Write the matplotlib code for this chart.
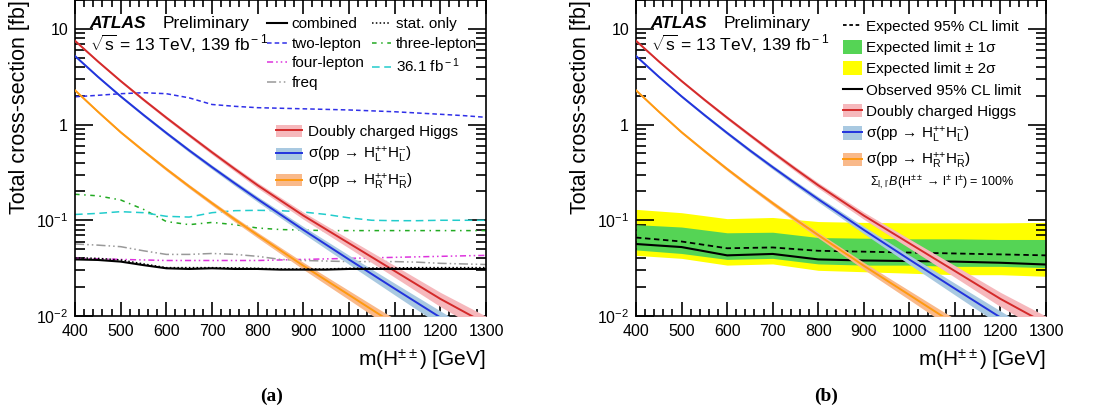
import matplotlib
matplotlib.use("Agg")
import matplotlib.pyplot as plt
from matplotlib.lines import Line2D
from matplotlib.patches import Patch
from matplotlib.ticker import MultipleLocator, LogLocator, FixedLocator, FixedFormatter, NullFormatter
import numpy as np

plt.rcParams['font.family'] = ['Liberation Sans', 'DejaVu Sans']
plt.rcParams['mathtext.fontset'] = 'custom'
plt.rcParams['mathtext.rm'] = 'Liberation Sans'
plt.rcParams['mathtext.it'] = 'Liberation Sans:italic'
plt.rcParams['mathtext.bf'] = 'Liberation Sans:bold'

# signal cross-sections [fb]
sig_mass = [400, 450, 500, 550, 600, 650, 700, 750, 800, 900, 1000, 1100, 1200, 1300]
xs_total = [7.5, 4.57, 2.85, 1.82, 1.18, 0.776, 0.513, 0.343, 0.232, 0.112, 0.0575, 0.0295, 0.0151, 0.0083]
xs_left = [5.2, 3.16, 1.97, 1.26, 0.817, 0.537, 0.359, 0.243, 0.166, 0.0794, 0.0389, 0.0193, 0.00966, 0.00484]
xs_right = [2.28, 1.365, 0.832, 0.531, 0.343, 0.226, 0.151, 0.102, 0.070, 0.0335, 0.0166, 0.0082, 0.0041, 0.00207]
xs_unc = [0.025, 0.027, 0.03, 0.035, 0.04, 0.045, 0.05, 0.057, 0.065, 0.085, 0.11, 0.14, 0.17, 0.20]

# (a) limits per channel [fb]
lim_mass = [400, 450, 500, 550, 600, 650, 700, 750, 800, 850, 900, 950, 1000, 1050, 1100, 1150, 1200, 1250, 1300]
combined = [0.039, 0.0385, 0.037, 0.034, 0.0315, 0.031, 0.0315, 0.031, 0.031, 0.0305, 0.0305, 0.0305,
            0.031, 0.031, 0.031, 0.031, 0.031, 0.031, 0.031]
stat_only = [0.0405, 0.040, 0.0385, 0.035, 0.032, 0.032, 0.032, 0.0318, 0.0315, 0.031, 0.031, 0.031,
             0.0315, 0.0317, 0.0318, 0.032, 0.032, 0.032, 0.032]
two_lep = [1.95, 2.02, 2.1, 2.15, 2.1, 1.9, 1.62, 1.55, 1.5, 1.48, 1.46, 1.44, 1.42, 1.39, 1.36, 1.32,
           1.28, 1.24, 1.19]
three_lep = [0.187, 0.18, 0.163, 0.13, 0.097, 0.09, 0.095, 0.09, 0.083, 0.08, 0.079, 0.078, 0.078,
             0.078, 0.078, 0.078, 0.078, 0.078, 0.078]
four_lep = [0.040, 0.0395, 0.039, 0.0385, 0.038, 0.038, 0.038, 0.038, 0.038, 0.0385, 0.039, 0.0395,
            0.040, 0.0405, 0.041, 0.0415, 0.042, 0.0425, 0.043]
lim_36fb = [0.115, 0.118, 0.123, 0.12, 0.11, 0.108, 0.12, 0.126, 0.127, 0.126, 0.122, 0.115, 0.106,
            0.100, 0.099, 0.099, 0.100, 0.100, 0.100]
freq = [0.0565, 0.055, 0.053, 0.048, 0.044, 0.044, 0.045, 0.044, 0.042, 0.039, 0.038, 0.0375, 0.037,
        0.037, 0.037, 0.0365, 0.0355, 0.035, 0.0345]

# (b) combined limit with bands [fb]
band_mass = [400, 500, 600, 700, 800, 900, 1000, 1100, 1200, 1300]
exp_lim = [0.066, 0.060, 0.051, 0.052, 0.048, 0.047, 0.046, 0.045, 0.044, 0.043]
obs_lim = [0.0565, 0.0525, 0.043, 0.0445, 0.039, 0.038, 0.0375, 0.037, 0.036, 0.0345]
exp_1up = [0.090, 0.085, 0.074, 0.075, 0.066, 0.065, 0.064, 0.064, 0.063, 0.063]
exp_1dn = [0.049, 0.045, 0.039, 0.040, 0.035, 0.034, 0.034, 0.033, 0.033, 0.032]
exp_2up = [0.130, 0.120, 0.104, 0.107, 0.097, 0.095, 0.094, 0.094, 0.094, 0.095]
exp_2dn = [0.043, 0.040, 0.034, 0.035, 0.030, 0.029, 0.028, 0.027, 0.027, 0.026]

c_red, c_red_band = '#d42a2a', '#f6b8bc'
c_blue, c_blue_band = '#2233dd', '#a9c9e1'
c_orng, c_orng_band = '#ff9a10', '#f9b98a'
c_green, c_yellow = '#55d455', '#ffff00'

fig = plt.figure(figsize=(11.02, 4.17), dpi=100)
ax1 = fig.add_axes([75/1102, 1-316/417, 411/1102, 316/417])
ax2 = fig.add_axes([636/1102, 1-316/417, 410/1102, 316/417])

m = np.array(sig_mass)
unc = np.array(xs_unc)


def draw_signal(ax):
    out = []
    for xs, col, bcol in [(xs_total, c_red, c_red_band), (xs_left, c_blue, c_blue_band),
                          (xs_right, c_orng, c_orng_band)]:
        xs = np.array(xs)
        ax.fill_between(m, xs*(1-unc), xs*(1+unc), color=bcol, lw=0, zorder=3)
        ax.plot(m, xs, color=col, lw=1.4, zorder=4)
        out.append((Patch(facecolor=bcol, edgecolor='none'), Line2D([], [], color=col, lw=1.4)))
    return out


def style_axis(ax):
    ax.set_yscale('log')
    ax.set_xlim(400, 1300)
    ax.set_ylim(0.01, 20)
    ax.xaxis.set_major_locator(MultipleLocator(100))
    ax.xaxis.set_minor_locator(MultipleLocator(20))
    ax.yaxis.set_major_locator(FixedLocator([0.01, 0.1, 1, 10]))
    ax.yaxis.set_major_formatter(FixedFormatter([r'$10^{-2}$', r'$10^{-1}$', '1', '10']))
    ax.yaxis.set_minor_locator(LogLocator(base=10, subs=np.arange(2, 10)))
    ax.yaxis.set_minor_formatter(NullFormatter())
    ax.tick_params(which='both', direction='in', top=True, right=True, labelsize=11.5, width=1.2)
    ax.tick_params(axis='y', which='major', length=13, pad=5)
    ax.tick_params(axis='y', which='minor', length=7)
    ax.tick_params(axis='x', which='major', length=10, pad=6)
    ax.tick_params(axis='x', which='minor', length=5)
    for s in ax.spines.values():
        s.set_linewidth(1.2)
    ax.set_xlabel(r'm(H$^{\pm\pm}$) [GeV]', fontsize=15, loc='right', labelpad=6)
    ax.set_ylabel('Total cross-section [fb]', fontsize=15.5, loc='top', labelpad=4)
    ax.text(0.036, 0.925, 'ATLAS', transform=ax.transAxes, fontsize=12.5, fontweight='bold',
            style='italic', va='center')
    ax.text(0.214, 0.925, 'Preliminary', transform=ax.transAxes, fontsize=12.5, va='center')
    ax.text(0.036, 0.862, r'$\sqrt{\rm s}$ = 13 TeV, 139 fb$^{\rm -1}$', transform=ax.transAxes,
            fontsize=12.5, va='center')


# panel (a): limits per channel
ax1.plot(lim_mass, combined, color='black', lw=1.5, zorder=5)
ax1.plot(lim_mass, stat_only, color='black', lw=1.1, ls=(0, (1, 1.5)), zorder=5)
ax1.plot(lim_mass, two_lep, color='#3030e8', lw=1.1, ls=(0, (3, 2)))
ax1.plot(lim_mass, three_lep, color='#22aa22', lw=1.1, ls=(0, (3, 3, 1, 3)))
ax1.plot(lim_mass, four_lep, color='#dd33dd', lw=1.1, ls=(0, (4, 2, 1, 2, 1, 2)))
ax1.plot(lim_mass, lim_36fb, color='#22cccc', lw=1.1, ls=(0, (5, 3)))
ax1.plot(lim_mass, freq, color='#999999', lw=1.1, ls=(0, (6, 2, 1, 2, 1, 2)))
sig_handles = draw_signal(ax1)
style_axis(ax1)

h1 = [Line2D([], [], color='black', lw=1.5),
      Line2D([], [], color='#3030e8', lw=1.1, ls=(0, (3, 2))),
      Line2D([], [], color='#dd33dd', lw=1.1, ls=(0, (4, 2, 1, 2, 1, 2))),
      Line2D([], [], color='#999999', lw=1.1, ls=(0, (6, 2, 1, 2, 1, 2))),
      Line2D([], [], color='black', lw=1.1, ls=(0, (1, 1.5))),
      Line2D([], [], color='#22aa22', lw=1.1, ls=(0, (3, 3, 1, 3))),
      Line2D([], [], color='#22cccc', lw=1.1, ls=(0, (5, 3)))]
l1 = ['combined', 'two-lepton', 'four-lepton', 'freq', 'stat. only', 'three-lepton', r'36.1 fb$^{\rm -1}$']
leg1 = ax1.legend(h1, l1, ncol=2, loc='upper left', bbox_to_anchor=(0.468, 0.945), frameon=False,
                  fontsize=11, handlelength=1.3, handletextpad=0.3, columnspacing=0.45,
                  labelspacing=0.36, borderaxespad=0, borderpad=0)
ax1.add_artist(leg1)
sig_labels = ['Doubly charged Higgs',
              'σ(pp → H$_{\\rm L}^{\\text{++}}$H$_{\\rm L}^{\\text{--}}$)',
              'σ(pp → H$_{\\rm R}^{\\text{++}}$H$_{\\rm R}^{\\text{--}}$)']
ax1.legend(sig_handles, sig_labels, loc='upper left', bbox_to_anchor=(0.49, 0.605), frameon=False,
           fontsize=11, handlelength=1.7, handleheight=0.8, handletextpad=0.35, labelspacing=0.42,
           borderaxespad=0, borderpad=0)

# panel (b): combined limit with expected bands
ax2.fill_between(band_mass, exp_2dn, exp_2up, color=c_yellow, lw=0, zorder=1)
ax2.fill_between(band_mass, exp_1dn, exp_1up, color=c_green, lw=0, zorder=2)
ax2.plot(band_mass, exp_lim, color='black', lw=1.3, ls=(0, (3, 2)), zorder=2.5)
ax2.plot(band_mass, obs_lim, color='black', lw=1.5, zorder=2.5)
sig_handles2 = draw_signal(ax2)
style_axis(ax2)

h2 = [Line2D([], [], color='black', lw=1.3, ls=(0, (2, 1.5))),
      Patch(facecolor=c_green), Patch(facecolor=c_yellow),
      Line2D([], [], color='black', lw=1.5)] + sig_handles2
l2 = ['Expected 95% CL limit', 'Expected limit ± 1σ', 'Expected limit ± 2σ',
      'Observed 95% CL limit'] + sig_labels
ax2.legend(h2, l2, loc='upper left', bbox_to_anchor=(0.505, 0.94), frameon=False, fontsize=11,
           handlelength=1.25, handleheight=1.0, handletextpad=0.25, labelspacing=0.4,
           borderaxespad=0, borderpad=0)
ax2.text(0.571, 0.424, r"$\Sigma_{\rm l,\,l'}$$B$(H$^{\pm\pm}$ → l$^{\pm}$ l$^{\pm}$) = 100%",
         transform=ax2.transAxes, fontsize=9, va='center')

fig.text(272/1102, 1-396/417, '(a)', family='Liberation Serif', fontweight='bold', fontsize=14,
         ha='center', va='center')
fig.text(826/1102, 1-396/417, '(b)', family='Liberation Serif', fontweight='bold', fontsize=14,
         ha='center', va='center')

fig.savefig('out.png', dpi=100)
